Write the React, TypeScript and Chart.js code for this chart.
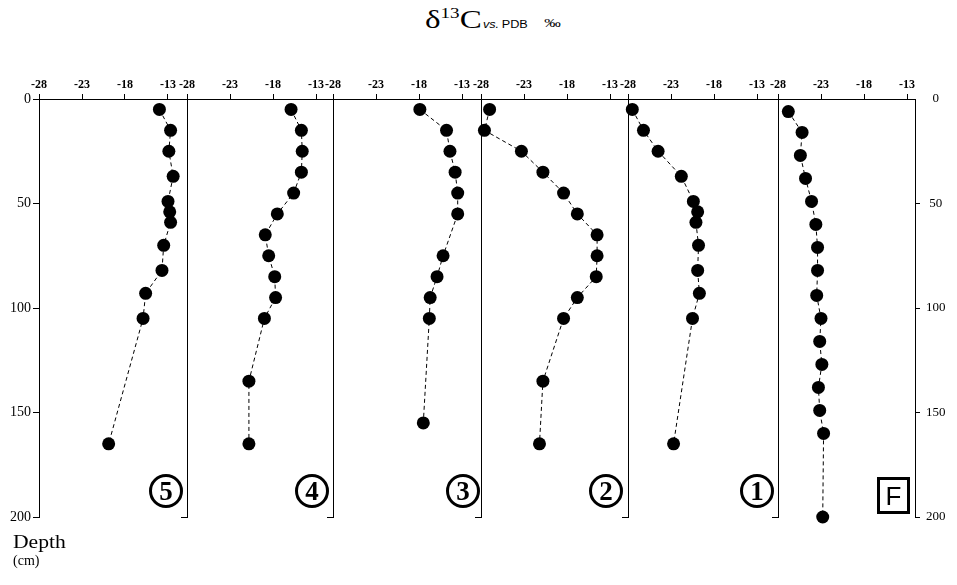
import React, { useEffect, useRef } from "react";
import { Chart, registerables } from "chart.js";

Chart.register(...registerables);

// ---------- data ----------
const xTicks = [-28, -23, -18, -13];
const depthTicks = [0, 50, 100, 150, 200];
const panelNames = ["5", "4", "3", "2", "1", "F"];

const depthP5 = [5, 15, 25, 37, 49, 54, 59, 70, 82, 93, 105, 165];
const d13cP5 = [-14.0, -12.7, -12.9, -12.4, -13.0, -12.8, -12.7, -13.5, -13.7, -15.6, -15.9, -19.9];

const depthP4 = [5, 15, 25, 35, 45, 55, 65, 75, 85, 95, 105, 135, 165];
const d13cP4 = [-15.9, -14.7, -14.6, -14.7, -15.6, -17.5, -18.9, -18.5, -17.8, -17.7, -19.0, -20.8, -20.8];

const depthP3 = [5, 15, 25, 35, 45, 55, 75, 85, 95, 105, 155];
const d13cP3 = [-17.9, -14.8, -14.4, -13.8, -13.5, -13.5, -15.2, -15.9, -16.7, -16.8, -17.5];

const depthP2 = [5, 15, 25, 35, 45, 55, 65, 75, 85, 95, 105, 135, 165];
const d13cP2 = [-27.0, -27.6, -23.3, -20.8, -18.4, -16.8, -14.5, -14.5, -14.6, -16.8, -18.4, -20.8, -21.2];

const depthP1 = [5, 15, 25, 37, 49, 54, 59, 70, 82, 93, 105, 165];
const d13cP1 = [-27.5, -26.2, -24.5, -21.8, -20.4, -19.9, -20.1, -19.8, -19.9, -19.7, -20.5, -22.7];

const depthF = [6, 16, 27, 38, 49, 60, 71, 82, 94, 105, 116, 127, 138, 149, 160, 200];
const d13cF = [-26.8, -25.2, -25.4, -24.8, -24.1, -23.6, -23.4, -23.4, -23.5, -23.0, -23.15, -22.9, -23.3, -23.15, -22.7, -22.8];

const panelDepths = [depthP5, depthP4, depthP3, depthP2, depthP1, depthF];
const panelValues = [d13cP5, d13cP4, d13cP3, d13cP2, d13cP1, d13cF];

// ---------- layout ----------
const W = 957;
const H = 585;
const AREA_TOP = 99;
const AREA_BOTTOM = 517;
const X_AXIS_H = 30;
const PX_PER_UNIT = 8.6;
const panelLeft = [39, 187, 333, 481, 628, 778];
const panelRight = [187, 333, 481, 628, 778, 915];
const labelCenters = [166, 312, 463, 606, 757, 893];
const SERIF = '"Liberation Serif", "Times New Roman", serif';
const SANS = '"Liberation Sans", Arial, sans-serif';

function Panel({ index }: { index: number }) {
  const ref = useRef<HTMLCanvasElement | null>(null);
  useEffect(() => {
    if (!ref.current) return;
    const isFirst = index === 0;
    const isLast = index === panelNames.length - 1;
    const leftW = isFirst ? panelLeft[0] : 10;
    const rightW = isLast ? W - panelRight[index] : 0;
    const xMax = -28 + (panelRight[index] - panelLeft[index]) / PX_PER_UNIT;
    const pts = panelDepths[index].map((d, i) => ({ x: panelValues[index][i], y: d }));

    const depthScale = (pos: "left" | "right", width: number, showLabels: boolean, tickColor: (v: number) => string) => ({
      type: "linear",
      position: pos,
      reverse: true,
      min: 0,
      max: 200,
      afterBuildTicks: (s: any) => {
        s.ticks = depthTicks.map((v) => ({ value: v }));
      },
      afterFit: (s: any) => {
        s.width = width;
      },
      grid: {
        display: true,
        drawOnChartArea: false,
        drawTicks: true,
        tickLength: pos === "left" ? 6 : 5,
        lineWidth: 1,
        color: (ctx: any) => tickColor(ctx.tick ? ctx.tick.value : -1),
      },
      border: { display: true, color: "#000", width: 1 },
      ticks: {
        display: showLabels,
        color: "#000",
        padding: pos === "left" ? 2 : 6,
        crossAlign: pos === "left" ? "near" : "center",
        font: { family: SERIF, size: pos === "left" ? 14 : 13 },
      },
    });

    const scales: any = {
      x: {
        type: "linear",
        position: "top",
        min: -28,
        max: xMax,
        afterBuildTicks: (s: any) => {
          s.ticks = xTicks.map((v) => ({ value: v }));
        },
        afterFit: (s: any) => {
          s.height = X_AXIS_H;
        },
        grid: {
          display: true,
          drawOnChartArea: false,
          drawTicks: true,
          tickLength: 5,
          color: "#000",
          lineWidth: 1,
        },
        border: { display: true, color: "#000", width: 1 },
        ticks: {
          color: "#000",
          padding: 2,
          maxRotation: 0,
          autoSkip: false,
          font: { family: SERIF, size: 12, weight: "bold" },
          callback: (v: any) => String(v),
        },
      },
      y: depthScale("left", leftW, isFirst, (v) => (isFirst || v === 200 ? "#000" : "rgba(0,0,0,0)")),
    };
    if (isLast) {
      scales.y2 = depthScale("right", rightW, true, (v) => (v === 0 ? "rgba(0,0,0,0)" : "#000"));
    }

    const chart = new Chart(ref.current, {
      type: "scatter",
      data: {
        datasets: [
          {
            label: panelNames[index],
            data: pts,
            showLine: true,
            borderColor: "#000",
            borderWidth: 1,
            borderDash: [4, 3],
            pointRadius: 6.5,
            pointBackgroundColor: "#000",
            pointBorderColor: "#000",
            pointBorderWidth: 0,
            clip: false,
            xAxisID: "x",
            yAxisID: "y",
          } as any,
        ],
      },
      options: {
        animation: false,
        responsive: false,
        maintainAspectRatio: false,
        events: [],
        layout: {
          padding: {
            left: panelLeft[index] - leftW,
            right: W - panelRight[index] - rightW,
            top: AREA_TOP - X_AXIS_H,
            bottom: H - AREA_BOTTOM,
          },
        },
        plugins: {
          legend: { display: false },
          tooltip: { enabled: false },
          title: { display: false },
        },
        scales,
      } as any,
    });
    return () => chart.destroy();
  }, [index]);
  return (
    <canvas
      ref={ref}
      width={W}
      height={H}
      style={{ position: "absolute", left: 0, top: 0, width: W, height: H }}
    />
  );
}

function CircleLabel({ text, cx }: { text: string; cx: number }) {
  return (
    <div
      style={{
        position: "absolute",
        left: cx - 17,
        top: 474,
        width: 34,
        height: 34,
        boxSizing: "border-box",
        border: "3px solid #000",
        borderRadius: "50%",
        display: "flex",
        alignItems: "center",
        justifyContent: "center",
        fontFamily: SERIF,
        fontWeight: "bold",
        fontSize: 27,
        lineHeight: 1,
        color: "#000",
      }}
    >
      {text}
    </div>
  );
}

export default function App() {
  return (
    <div
      style={{
        position: "absolute",
        left: 0,
        top: 0,
        width: W,
        height: H,
        background: "#fff",
        overflow: "hidden",
      }}
    >
      <div
        style={{
          position: "absolute",
          left: 425,
          top: 5,
          fontFamily: SERIF,
          fontSize: 26,
          lineHeight: "30px",
          whiteSpace: "nowrap",
          color: "#000",
          transform: "scaleX(1.27)",
          transformOrigin: "0 0",
        }}
      >
        δ
        <span style={{ fontSize: 15, verticalAlign: "10px", lineHeight: 0 }}>13</span>C
        <span style={{ fontFamily: SANS, fontSize: 10, fontStyle: "italic", verticalAlign: "0px", lineHeight: 0, marginLeft: 1 }}>
          vs.
        </span>
        <span style={{ fontFamily: SANS, fontSize: 10, verticalAlign: "0px", lineHeight: 0, marginLeft: 2 }}>PDB</span>
        <span style={{ fontSize: 13, lineHeight: 0, marginLeft: 13, verticalAlign: "1px" }}>‰</span>
      </div>

      {panelNames.map((_, i) => (
        <Panel key={i} index={i} />
      ))}

      {panelNames.slice(0, 5).map((t, i) => (
        <CircleLabel key={t} text={t} cx={labelCenters[i]} />
      ))}
      <div
        style={{
          position: "absolute",
          left: 877,
          top: 477,
          width: 33,
          height: 37,
          boxSizing: "border-box",
          border: "3px solid #000",
          display: "flex",
          alignItems: "center",
          justifyContent: "center",
          fontFamily: SANS,
          fontSize: 26,
          lineHeight: 1,
          color: "#000",
        }}
      >
        {panelNames[5]}
      </div>

      <div
        style={{
          position: "absolute",
          left: 13,
          top: 533,
          fontFamily: SERIF,
          fontSize: 18,
          lineHeight: "18px",
          color: "#000",
          whiteSpace: "nowrap",
          transform: "scaleX(1.2)",
          transformOrigin: "0 0",
        }}
      >
        Depth
      </div>
      <div
        style={{
          position: "absolute",
          left: 13,
          top: 554,
          fontFamily: SERIF,
          fontSize: 14,
          lineHeight: "14px",
          color: "#000",
          whiteSpace: "nowrap",
        }}
      >
        (cm)
      </div>
    </div>
  );
}
